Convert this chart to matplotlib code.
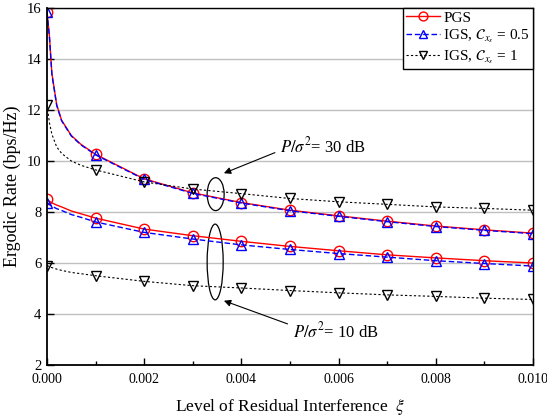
import matplotlib
matplotlib.use("Agg")
import matplotlib.pyplot as plt
from matplotlib.patches import Ellipse

plt.rcParams['font.family'] = ['Liberation Serif', 'DejaVu Serif']
plt.rcParams['mathtext.fontset'] = 'stix'

xi = [0, 0.00005, 0.0001, 0.0002, 0.0003, 0.0005, 0.0007, 0.001, 0.002, 0.003,
      0.004, 0.005, 0.006, 0.007, 0.008, 0.009, 0.010]
mark_idx = [0, 7, 8, 9, 10, 11, 12, 13, 14, 15, 16]

pgs_30 = [15.85, 14.9, 13.45, 12.2, 11.6, 11.0, 10.65, 10.26, 9.3, 8.75,
          8.37, 8.07, 7.85, 7.64, 7.45, 7.3, 7.17]
igs05_30 = [15.85, 14.85, 13.4, 12.18, 11.58, 10.98, 10.63, 10.24, 9.28, 8.73,
            8.35, 8.05, 7.83, 7.62, 7.43, 7.28, 7.15]
igs1_30 = [12.2, 11.5, 11.05, 10.55, 10.3, 10.0, 9.83, 9.65, 9.18, 8.9,
           8.72, 8.53, 8.4, 8.3, 8.2, 8.14, 8.07]
pgs_10 = [8.5, 8.42, 8.36, 8.27, 8.2, 8.04, 7.93, 7.76, 7.33, 7.07,
          6.85, 6.65, 6.48, 6.32, 6.2, 6.09, 6.0]
igs05_10 = [8.37, 8.29, 8.23, 8.13, 8.06, 7.9, 7.79, 7.61, 7.2, 6.94,
            6.71, 6.53, 6.37, 6.23, 6.09, 5.98, 5.88]
igs1_10 = [5.9, 5.86, 5.82, 5.76, 5.71, 5.63, 5.58, 5.5, 5.28, 5.11,
           5.02, 4.92, 4.83, 4.75, 4.69, 4.62, 4.57]

labels = ['PGS', r'IGS, $\mathcal{C}_{x_s}$ = 0.5', r'IGS, $\mathcal{C}_{x_s}$ = 1']
x_ticks = [0, 0.002, 0.004, 0.006, 0.008, 0.010]
y_ticks = [2, 4, 6, 8, 10, 12, 14, 16]

fig = plt.figure(figsize=(5.47, 4.2), dpi=100)
ax = fig.add_axes([47/547, 1 - 365/420, (533-47)/547, (365-8)/420])

ms = 7.5
st_pgs = dict(color='red', ls='-', lw=1.0, marker='o', mfc='none', mec='red', ms=ms, mew=1.0)
st_i05 = dict(color='blue', ls=(0, (4, 2)), lw=1.0, marker='^', mfc='none', mec='blue', ms=ms, mew=1.0)
st_i1 = dict(color='black', ls=(0, (2, 2)), lw=0.8, marker='v', mfc='none', mec='black', ms=ms, mew=1.0)

l1, = ax.plot(xi, pgs_30, markevery=mark_idx, **st_pgs)
l2, = ax.plot(xi, igs05_30, markevery=mark_idx, **st_i05)
l3, = ax.plot(xi, igs1_30, markevery=mark_idx, **st_i1)
ax.plot(xi, pgs_10, markevery=mark_idx, **st_pgs)
ax.plot(xi, igs05_10, markevery=mark_idx, **st_i05)
ax.plot(xi, igs1_10, markevery=mark_idx, **st_i1)

ax.set_xlim(0, 0.010)
ax.set_ylim(2, 16)
ax.set_xticks(x_ticks)
ax.set_xticklabels([f"{v:.3f}" for v in x_ticks])
ax.set_xticks([0.001, 0.003, 0.005, 0.007, 0.009], minor=True)
ax.set_yticks(y_ticks)
ax.tick_params(axis='both', which='both', direction='in', labelsize=10)
ax.tick_params(axis='y', which='major', labelsize=10.5)
ax.tick_params(which='major', length=5, width=1.0)
ax.tick_params(which='minor', length=3, width=1.0)
ax.tick_params(axis='x', which='major', pad=6)
ax.tick_params(axis='y', which='major', pad=4)
ax.grid(axis='y', color='#c0c0c0', lw=1.0)
ax.set_axisbelow(True)
for s in ax.spines.values():
    s.set_linewidth(1.0)
ax.spines['left'].set_linewidth(1.3)
ax.spines['bottom'].set_linewidth(1.3)

ax.set_xlabel(r'Level of Residual Interference  $\xi$', fontsize=12.5, labelpad=8)
ax.set_ylabel('Ergodic Rate (bps/Hz)', fontsize=13, labelpad=4)

ax.add_patch(Ellipse((0.00347, 8.70), 0.00035, 1.29, fill=False, ec='black', lw=0.9))
ax.add_patch(Ellipse((0.00346, 6.04), 0.00033, 2.97, fill=False, ec='black', lw=0.9))

ax.annotate(r'$P/\sigma^2$= 30 dB', xy=(0.00364, 9.52), xytext=(0.00480, 10.57),
            fontsize=12, ha='left', va='center',
            arrowprops=dict(arrowstyle='-|>', color='black', lw=0.8,
                            shrinkA=2, shrinkB=0, mutation_scale=10,
                            relpos=(0.0, 0.3)))
ax.annotate(r'$P/\sigma^2$= 10 dB', xy=(0.00364, 4.52), xytext=(0.00506, 3.3),
            fontsize=12, ha='left', va='center',
            arrowprops=dict(arrowstyle='-|>', color='black', lw=0.8,
                            shrinkA=2, shrinkB=0, mutation_scale=10,
                            relpos=(0.0, 0.8)))

leg = ax.legend([l1, l2, l3], labels, loc='upper right', fontsize=11,
                frameon=True, fancybox=False, edgecolor='black', framealpha=1,
                borderaxespad=0, borderpad=0.2, handlelength=2.2,
                handletextpad=0.25, labelspacing=0.2, markerscale=0.85)
leg.get_frame().set_linewidth(1.0)

fig.savefig('out.png', dpi=100)
